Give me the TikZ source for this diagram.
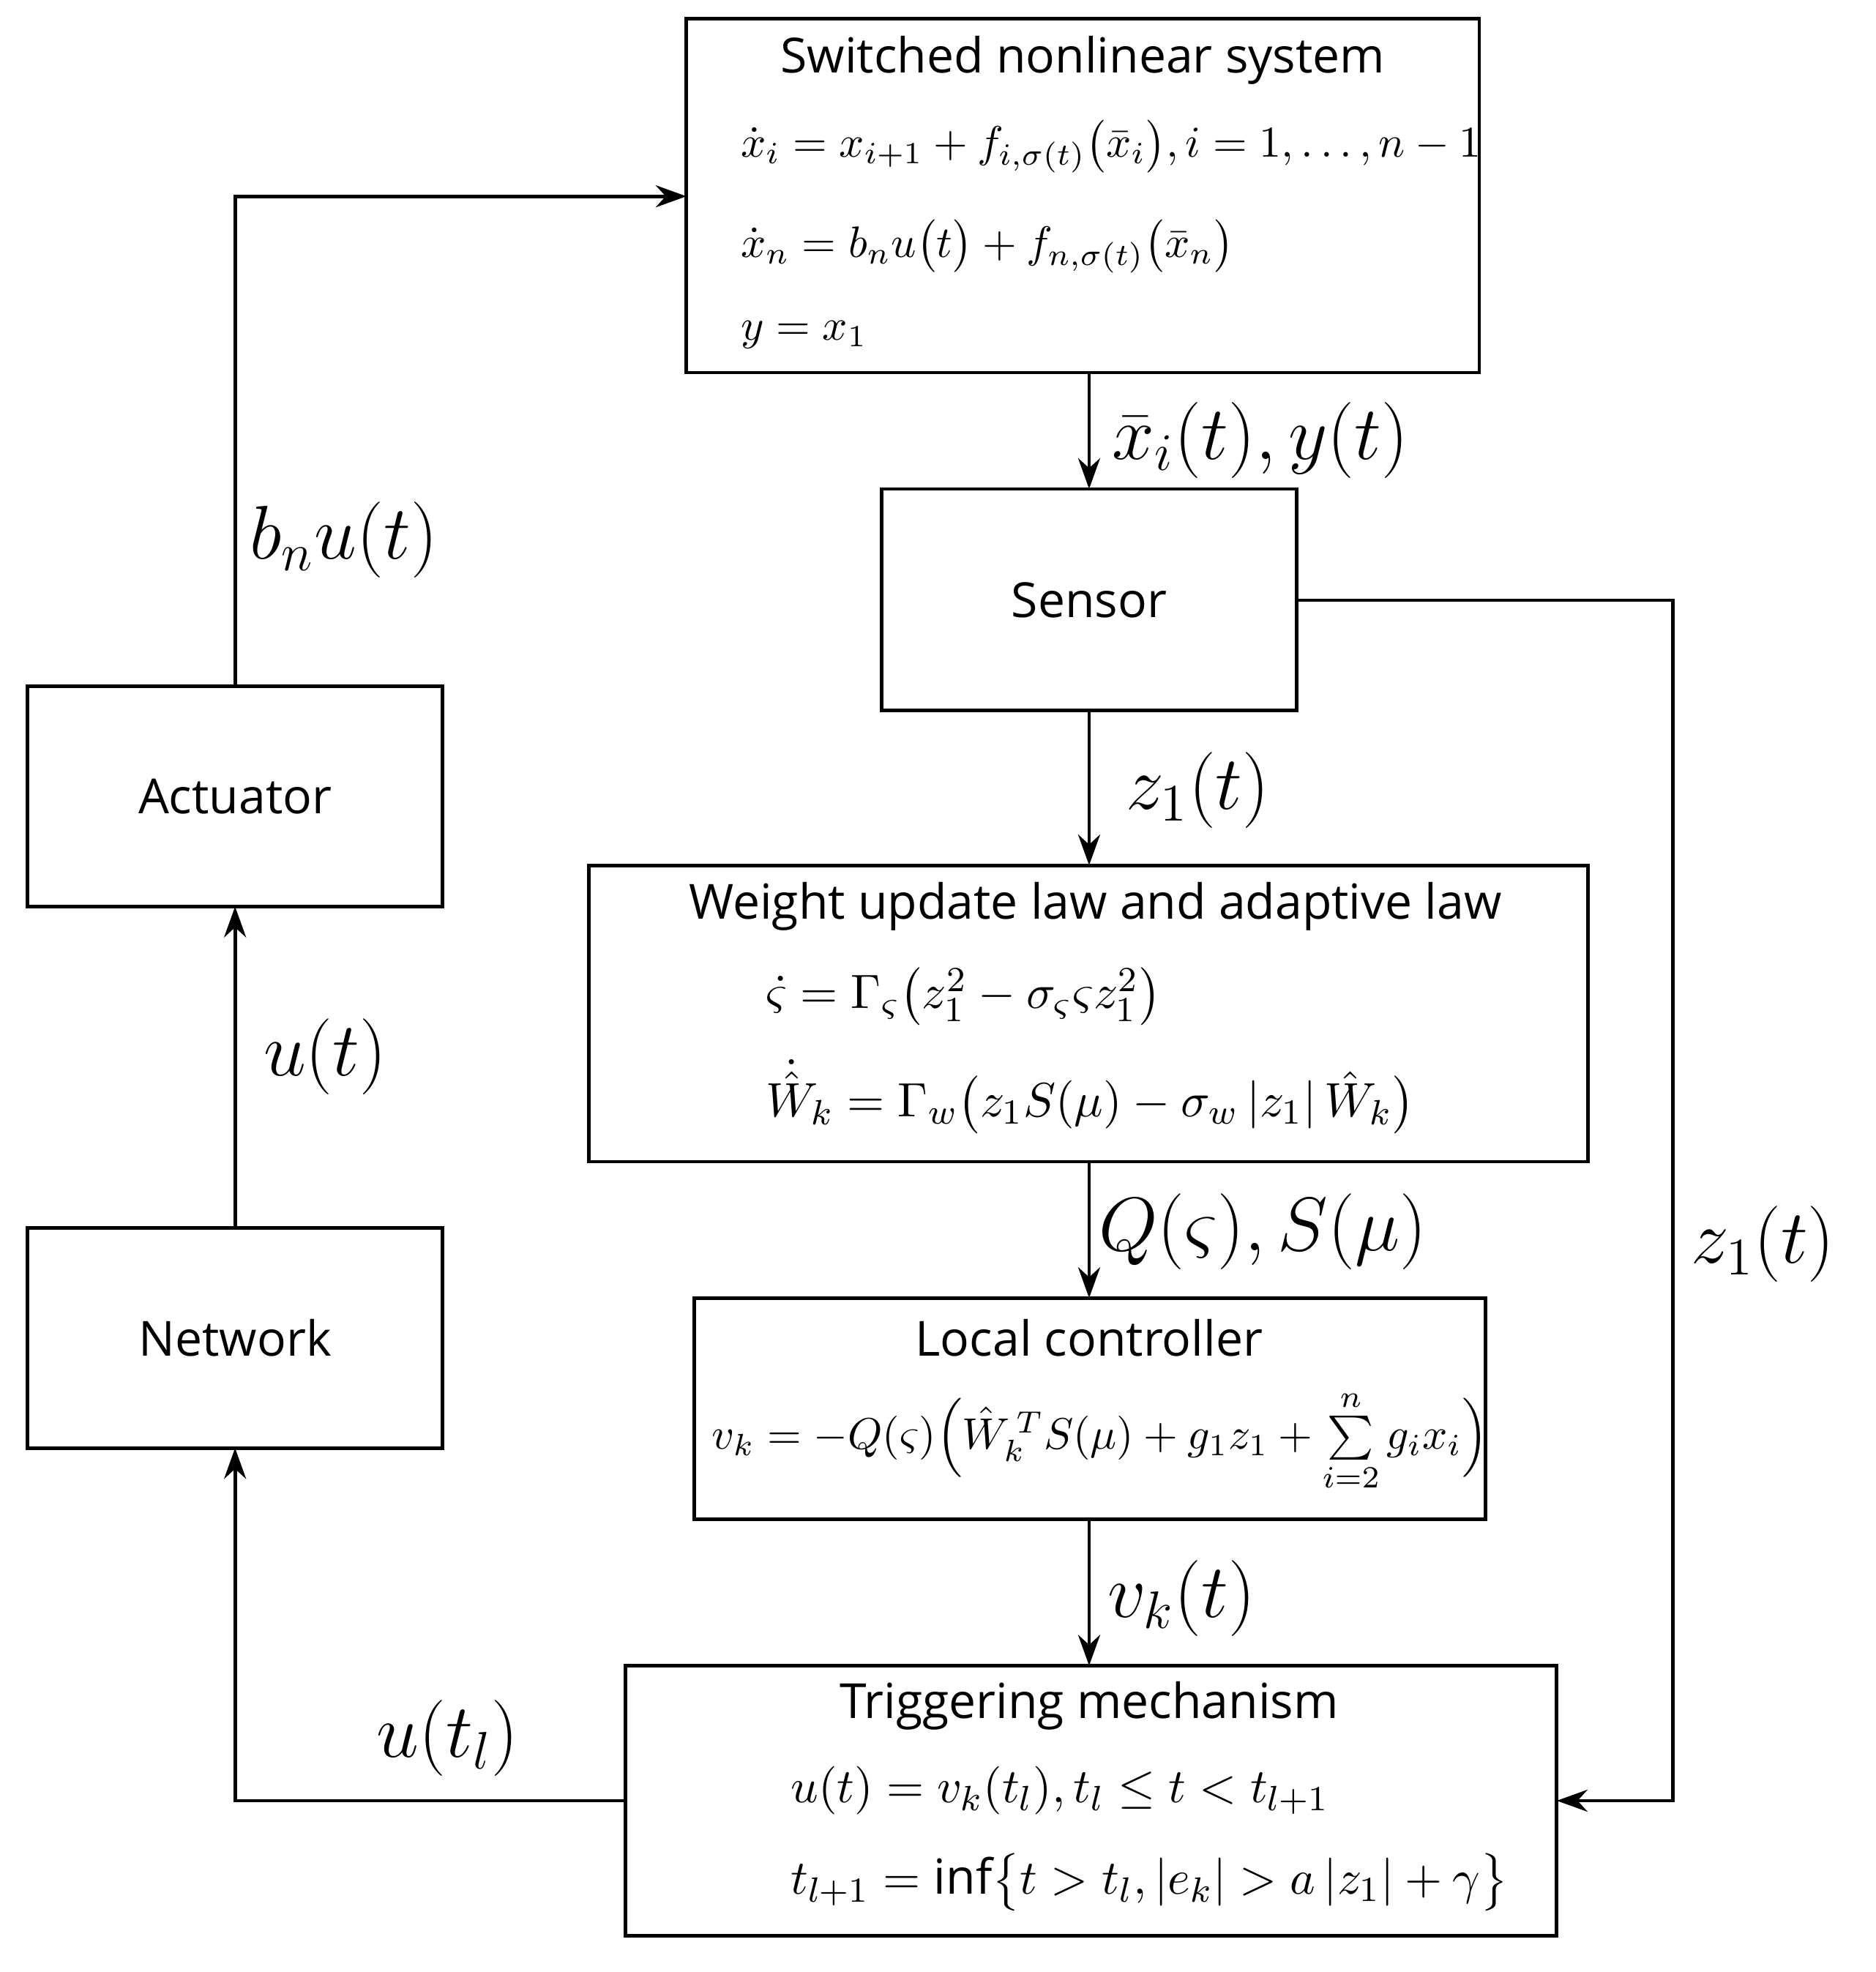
\documentclass[tikz,border=0pt]{standalone}
\usepackage{amsmath}
\usepackage{fontspec}
\setmainfont{Open Sans}
\usetikzlibrary{arrows.meta}
\begin{document}
\begin{tikzpicture}[x=0.01cm,y=-0.01cm,
  box/.style={draw,line width=0.8pt},
  ttl/.style={font=\fontsize{11}{13}\selectfont},
  eq/.style={anchor=west,font=\fontsize{11}{13}\selectfont},
  lab/.style={font=\fontsize{17}{20}\selectfont},
  conn/.style={line width=0.8pt,-{Stealth[length=7pt,width=5pt]}}]
\useasboundingbox (0,0) rectangle (1500,1577);
\draw[box] (549,15) rectangle (1183,298);
\coordinate (sysL) at (549,157); \coordinate (sysB) at (871,298);
\node[ttl] (t1) at (866,48) {Switched nonlinear system};
\node[eq,font=\fontsize{10.3}{12}\selectfont] (e1) at (580,117) {$\dot x_i = x_{i+1} + f_{i,\sigma(t)}\bigl(\bar x_i\bigr), i=1,\ldots,n-1$};
\node[eq,font=\fontsize{10.3}{12}\selectfont] (e2) at (580,197) {$\dot x_n = b_n u\bigl(t\bigr) + f_{n,\sigma(t)}\bigl(\bar x_n\bigr)$};
\node[eq,font=\fontsize{10.3}{12}\selectfont] (e3) at (580,268) {$y = x_1$};

\draw[box] (705,391) rectangle (1037,568);
\node[ttl] (sen) at (871,480) {Sensor};
\coordinate (senT) at (871,391); \coordinate (senB) at (871,568); \coordinate (senR) at (1037,480);

\draw[box] (22,549) rectangle (354,725);
\node[ttl] (act) at (188,637) {Actuator};
\coordinate (actT) at (188,549); \coordinate (actB) at (188,725);

\draw[box] (471,692) rectangle (1270,929);
\coordinate (wT) at (871,692); \coordinate (wB) at (871,929);
\node[ttl] (t2) at (876,725) {Weight update law and adaptive law};
\node[eq] (e4) at (600,797) {$\dot\varsigma = \Gamma_\varsigma\bigl(z_1^2-\sigma_\varsigma\varsigma z_1^2\bigr)$};
\node[eq] (e5) at (600,877) {$\dot{\hat W}_k = \Gamma_w\bigl(z_1 S(\mu)-\sigma_w\left|z_1\right|\hat W_k\bigr)$};

\draw[box] (22,982) rectangle (354,1158);
\node[ttl] (net) at (188,1070) {Network};
\coordinate (netT) at (188,982); \coordinate (netB) at (188,1158);

\draw[box] (555,1038) rectangle (1188,1215);
\coordinate (lT) at (871,1038); \coordinate (lB) at (871,1215);
\node[ttl] (t3) at (871,1070) {Local controller};
\node[eq,font=\fontsize{10}{12}\selectfont] (e6) at (557,1152) {$v_k = -Q(\varsigma)\Bigl(\hat W_k^{\,T} S(\mu) + g_1 z_1 + \sum\limits_{i=2}^{n} g_i x_i\Bigr)$};

\draw[box] (500,1332) rectangle (1245,1548);
\coordinate (trT) at (871,1332); \coordinate (trL) at (500,1440); \coordinate (trR) at (1245,1440);
\node[ttl] (t4) at (871,1364) {Triggering mechanism};
\node[eq] (e7) at (620,1432) {$u(t) = v_k(t_l), t_l \le t < t_{l+1}$};
\node[eq] (e8) at (620,1505) {$t_{l+1} = \mathrm{inf}\bigl\{t>t_l, \left|e_k\right| > a\left|z_1\right| + \gamma\bigr\}$};

\draw[conn] (sysB) -- (senT);
\draw[conn] (senB) -- (wT);
\draw[conn] (wB) -- (lT);
\draw[conn] (lB) -- (trT);
\draw[conn] (senR) -- (1338,480) -- (1338,1440) -- (trR);
\draw[conn] (trL) -- (188,1440) -- (netB);
\draw[conn] (netT) -- (actB);
\draw[conn] (actT) -- (188,157) -- (sysL);

\node[lab] (l1) at (1008,352) {$\bar x_i(t), y(t)$};
\node[lab] (l2) at (275,432) {$b_n u(t)$};
\node[lab] (l3) at (958,632) {$z_1(t)$};
\node[lab] (l4) at (260,845) {$u(t)$};
\node[lab] (l5) at (1010,985) {$Q(\varsigma), S(\mu)$};
\node[lab] (l6) at (1410,995) {$z_1(t)$};
\node[lab] (l7) at (945,1278) {$v_k(t)$};
\node[lab] (l8) at (358,1390) {$u(t_l)$};
\end{tikzpicture}
\end{document}
